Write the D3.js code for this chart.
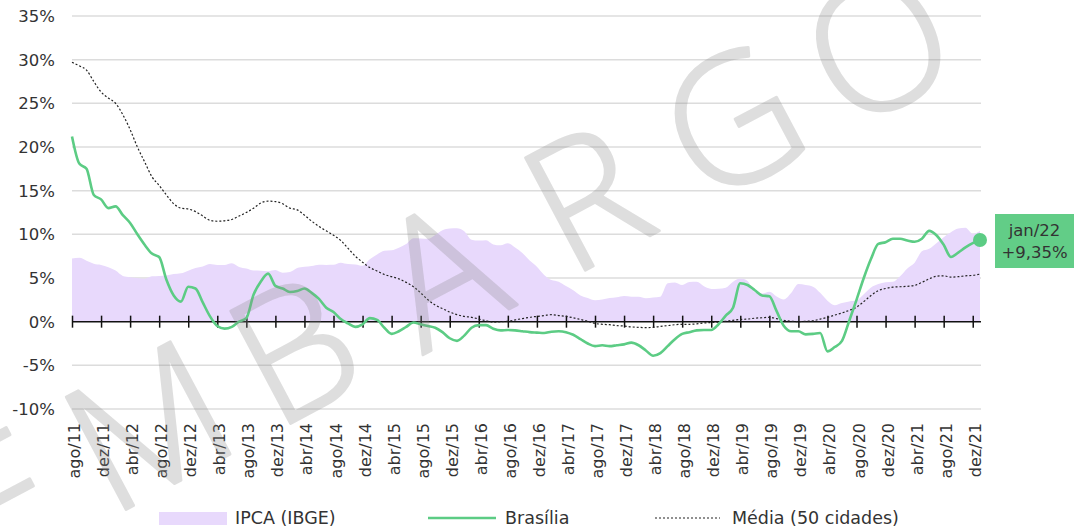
<!DOCTYPE html>
<html>
<head>
<meta charset="utf-8">
<script src="https://cdn.jsdelivr.net/npm/d3@7"></script>
<style>
  html, body { margin: 0; padding: 0; background: #fff; }
  svg { display: block; }
  text { font-family: "DejaVu Sans", sans-serif; fill: #333; }
</style>
</head>
<body>
<svg id="chart" width="1078" height="528"></svg>
<script>
// ---------- DATA ----------
const monthNames = ["jan","fev","mar","abr","mai","jun","jul","ago","set","out","nov","dez"];
// monthly categories from ago/11 to jan/22
const categories = [];
for (let k = 0; k < 126; k++) {
  const m = (7 + k) % 12, y = 11 + Math.floor((7 + k) / 12);
  categories.push(monthNames[m] + "/" + String(y).padStart(2, "0"));
}
const tickLabels = ["ago/11","dez/11","abr/12","ago/12","dez/12","abr/13","ago/13","dez/13",
  "abr/14","ago/14","dez/14","abr/15","ago/15","dez/15","abr/16","ago/16","dez/16","abr/17",
  "ago/17","dez/17","abr/18","ago/18","dez/18","abr/19","ago/19","dez/19","abr/20","ago/20",
  "dez/20","abr/21","ago/21","dez/21"];
const yTicks = [-10, -5, 0, 5, 10, 15, 20, 25, 30, 35];

const ipca = [7.23,7.31,6.97,6.64,6.50,6.22,5.85,5.24,5.10,4.99,4.92,5.20,5.24,5.28,5.45,5.53,5.84,
  6.15,6.31,6.59,6.49,6.50,6.70,6.27,6.09,5.86,5.84,5.77,5.91,5.59,5.68,6.15,6.28,6.37,6.52,6.50,
  6.51,6.75,6.59,6.56,6.41,7.14,7.70,8.13,8.17,8.47,8.89,9.56,9.53,9.49,9.93,10.48,10.67,10.71,
  10.36,9.39,9.28,9.32,8.84,8.74,8.97,8.48,7.87,6.99,6.29,5.35,4.76,4.57,4.08,3.60,3.00,2.71,
  2.46,2.54,2.70,2.80,2.95,2.86,2.84,2.68,2.76,2.86,4.39,4.48,4.19,4.53,4.56,4.05,3.75,3.78,
  3.89,4.58,4.94,4.66,3.37,3.22,3.43,2.89,2.54,3.27,4.31,4.19,4.01,3.30,2.40,1.88,2.13,2.31,
  2.44,3.14,3.92,4.31,4.52,4.56,5.20,6.10,6.76,8.06,8.35,8.99,9.68,10.25,10.67,10.74,10.06,10.38];

const brasilia = [21.2,18.1,17.5,14.5,14.0,13.0,13.2,12.2,11.3,10.0,8.8,7.8,7.4,4.8,3.0,2.3,4.0,
  3.8,2.2,0.6,-0.5,-0.8,-0.6,0.0,0.4,3.1,4.6,5.5,4.1,3.8,3.4,3.5,3.8,3.3,2.6,1.6,1.1,0.3,-0.2,
  -0.6,-0.3,0.4,0.2,-0.7,-1.4,-1.1,-0.6,-0.1,-0.3,-0.5,-0.7,-1.2,-1.9,-2.2,-1.6,-0.7,-0.4,-0.4,
  -0.8,-1.0,-0.95,-1.0,-1.1,-1.2,-1.25,-1.3,-1.15,-1.1,-1.2,-1.5,-2.0,-2.5,-2.8,-2.7,-2.8,-2.7,
  -2.6,-2.4,-2.7,-3.3,-3.9,-3.6,-2.8,-2.0,-1.4,-1.2,-1.0,-0.95,-0.95,-0.3,0.7,1.6,4.4,4.2,3.6,
  3.0,2.9,1.2,-0.5,-1.1,-1.1,-1.45,-1.4,-1.3,-3.4,-2.9,-2.2,0.1,2.5,5.0,7.2,8.9,9.1,9.5,9.5,
  9.3,9.15,9.5,10.4,9.9,8.8,7.4,7.9,8.5,9.0,9.35];

const media = [29.7,29.3,28.8,27.5,26.3,25.6,25.0,23.7,22.0,20.0,18.3,16.6,15.6,14.5,13.5,13.0,
  12.9,12.6,12.1,11.6,11.5,11.55,11.7,12.1,12.5,13.0,13.6,13.8,13.75,13.5,13.0,12.8,12.2,11.5,
  10.9,10.4,9.9,9.3,8.4,7.5,6.8,6.2,5.8,5.4,5.15,4.9,4.5,4.0,3.3,2.5,1.9,1.5,1.1,0.8,0.6,0.5,
  0.3,0.1,-0.05,0.0,0.05,0.2,0.35,0.5,0.6,0.7,0.8,0.7,0.6,0.45,0.25,0.05,-0.2,-0.3,-0.35,-0.45,
  -0.5,-0.6,-0.65,-0.68,-0.65,-0.55,-0.45,-0.35,-0.3,-0.3,-0.25,-0.15,-0.1,-0.05,0.05,0.15,0.25,
  0.3,0.4,0.45,0.5,0.35,0.15,0.05,0.0,0.05,0.1,0.3,0.5,0.75,1.0,1.3,1.65,2.3,3.0,3.55,3.8,3.95,
  4.0,4.05,4.15,4.5,4.9,5.2,5.25,5.1,5.15,5.25,5.3,5.45];

const seriesNames = ["IPCA (IBGE)", "Brasília", "Média (50 cidades)"];
const lastLabel = ["jan/22", "+9,35%"];
const watermarkLetters = ["E","M","B","A","R","G","O"];

// ---------- CHART ----------
const svg = d3.select("#chart");
const colors = { area: "#e8d9fc", green: "#5ccc84", box: "#62cd87", grid: "#dcdcdc" };

const x = d3.scalePoint().domain(categories).range([72, 980]);
const y = d3.scaleLinear().domain([-10, 35]).range([409, 16]);
const y0 = y(0);

// grid
svg.append("g").selectAll("line")
  .data(yTicks.filter(d => d !== 0))
  .join("line")
  .attr("x1", 72).attr("x2", 981)
  .attr("y1", d => y(d)).attr("y2", d => y(d))
  .attr("stroke", colors.grid).attr("stroke-width", 1.5);

// y labels
svg.append("g").selectAll("text")
  .data(yTicks)
  .join("text")
  .attr("x", 55).attr("y", d => y(d))
  .attr("dy", "0.36em")
  .attr("text-anchor", "end")
  .style("font-size", "16.5px")
  .text(d => d + "%");

// area IPCA
const idx = categories.map((c, i) => i);
svg.append("path")
  .datum(idx)
  .attr("fill", colors.area)
  .attr("d", d3.area()
    .x(i => x(categories[i]))
    .y0(y0)
    .y1(i => y(ipca[i]))
    .curve(d3.curveMonotoneX));

// x axis
const axisG = svg.append("g")
  .attr("transform", `translate(0,${y0})`)
  .call(d3.axisBottom(x).tickValues(tickLabels).tickSize(6).tickSizeOuter(0));
axisG.select(".domain").remove();
axisG.append("line")
  .attr("x1", 72).attr("x2", 981).attr("y1", 0).attr("y2", 0)
  .attr("stroke", "#111").attr("stroke-width", 1.5);
axisG.selectAll(".tick line")
  .attr("y1", -6).attr("y2", 6)
  .attr("stroke", "#111").attr("stroke-width", 1.5);
axisG.selectAll(".tick text")
  .attr("transform", "rotate(-90)")
  .attr("text-anchor", "end")
  .attr("x", -(423 - y0))
  .attr("y", 7.5)
  .attr("dy", 0)
  .attr("fill", "#333")
  .style("font-size", "16px")
  .style("font-family", "DejaVu Sans, sans-serif");

// media dotted line
svg.append("path")
  .datum(idx)
  .attr("fill", "none")
  .attr("stroke", "#222")
  .attr("stroke-width", 1.2)
  .attr("stroke-dasharray", "2,2")
  .attr("d", d3.line()
    .x(i => x(categories[i]))
    .y(i => y(media[i]))
    .curve(d3.curveMonotoneX));

// brasilia line
svg.append("path")
  .datum(idx)
  .attr("fill", "none")
  .attr("stroke", colors.green)
  .attr("stroke-width", 2.6)
  .attr("stroke-linejoin", "round")
  .attr("d", d3.line()
    .x(i => x(categories[i]))
    .y(i => y(brasilia[i]))
    .curve(d3.curveMonotoneX));

// end dot
const lastI = categories.length - 1;
svg.append("circle")
  .attr("cx", x(categories[lastI])).attr("cy", y(brasilia[lastI]))
  .attr("r", 7).attr("fill", colors.green);

// label box
const box = svg.append("g");
box.append("rect")
  .attr("x", 995).attr("y", 214).attr("width", 79).attr("height", 54)
  .attr("fill", colors.box);
box.selectAll("text")
  .data(lastLabel)
  .join("text")
  .attr("x", 1034.5)
  .attr("y", (d, i) => 236 + i * 22)
  .attr("text-anchor", "middle")
  .attr("fill", "#222")
  .style("font-size", "16.5px")
  .text(d => d);

// legend
const leg = svg.append("g");
leg.append("rect").attr("x", 159).attr("y", 512).attr("width", 68).attr("height", 13).attr("fill", colors.area);
leg.append("line").attr("x1", 428).attr("x2", 496).attr("y1", 518).attr("y2", 518)
  .attr("stroke", colors.green).attr("stroke-width", 2.6);
leg.append("line").attr("x1", 655).attr("x2", 720).attr("y1", 518).attr("y2", 518)
  .attr("stroke", "#222").attr("stroke-width", 1.2).attr("stroke-dasharray", "2,2");
const legX = [235, 505, 732];
leg.selectAll("text")
  .data(seriesNames)
  .join("text")
  .attr("x", (d, i) => legX[i]).attr("y", 518)
  .attr("dy", "0.36em")
  .style("font-size", "17.5px")
  .text(d => d);

// watermark
const wm = svg.append("g").attr("pointer-events", "none").attr("opacity", 0.28);
watermarkLetters.forEach((ch, k) => {
  const n = watermarkLetters.length - 1 - k; // distance from last letter
  const cx = 878 - 146 * n, cy = 45 + 76 * n;
  wm.append("text")
    .attr("transform", `translate(${cx},${cy}) rotate(-28)`)
    .attr("text-anchor", "middle")
    .attr("dy", "0.36em")
    .style("font-family", "Open Sans, sans-serif")
    .style("font-weight", 300)
    .style("font-size", "178px")
    .style("fill", "#8a8a8a")
    .style("stroke", "#8a8a8a")
    .style("stroke-width", 3)
    .style("stroke-linejoin", "round")
    .text(ch);
});
</script>
</body>
</html>
